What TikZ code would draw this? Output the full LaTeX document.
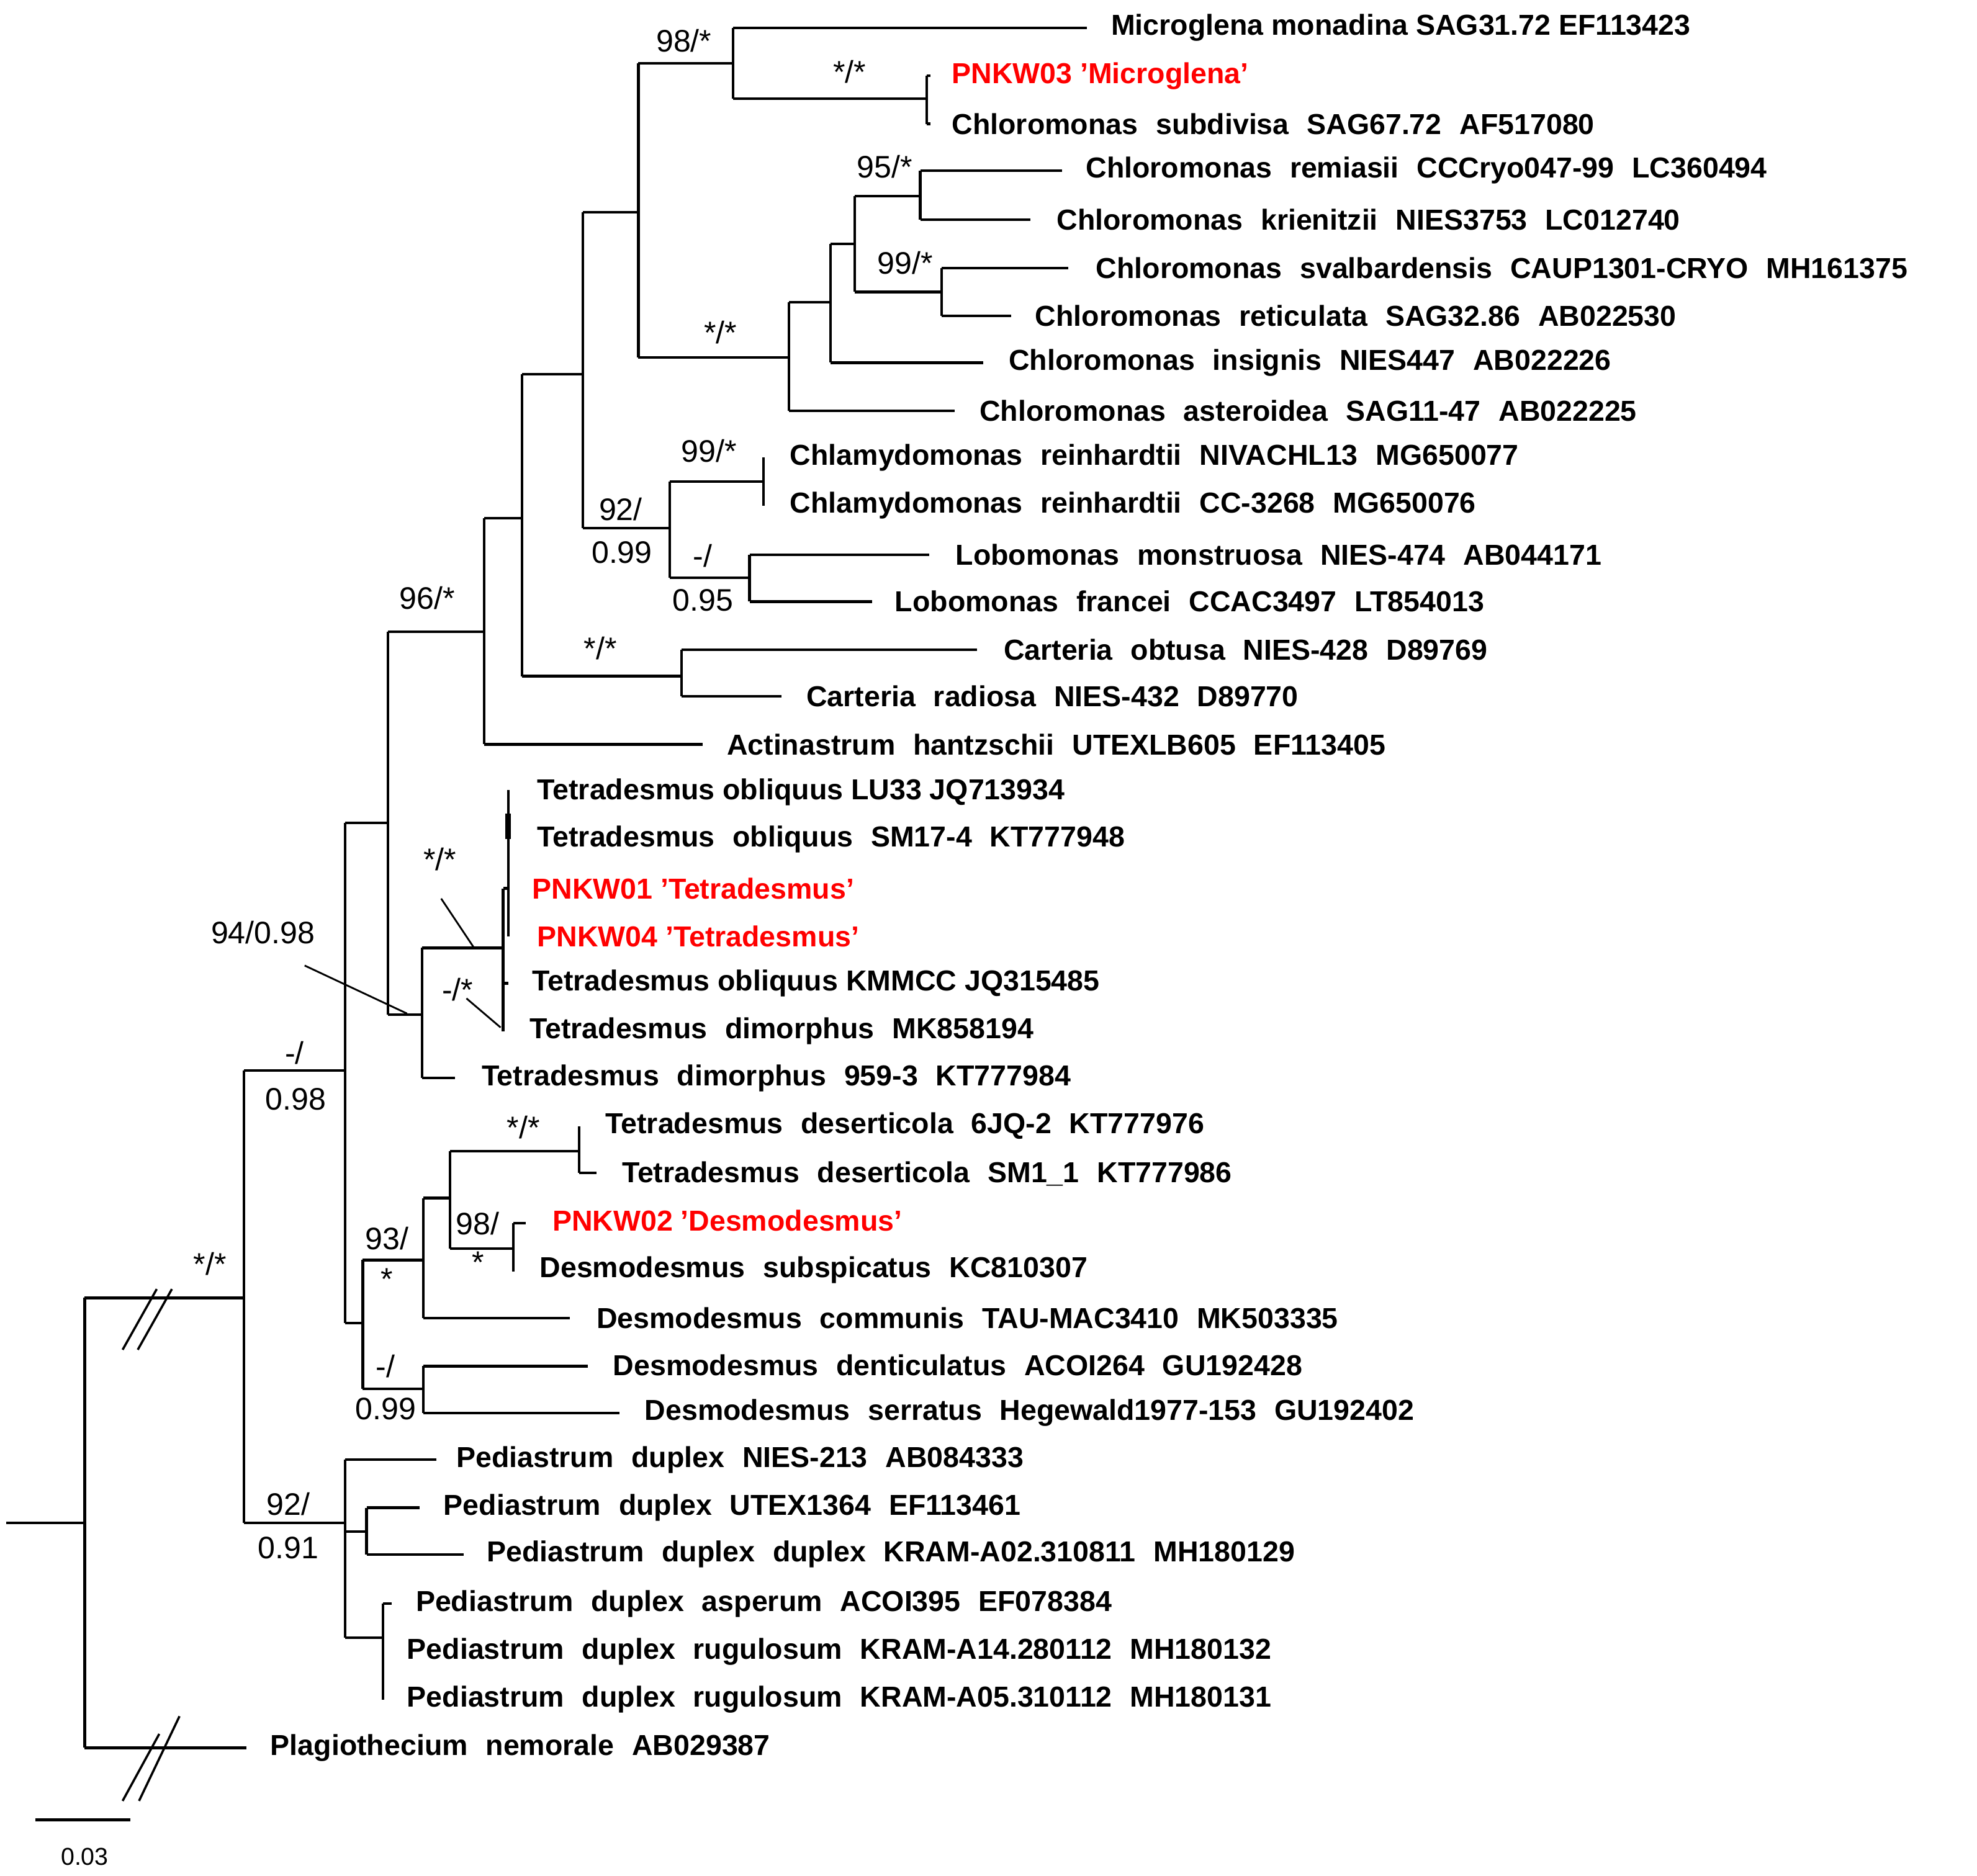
\documentclass[tikz,border=0pt]{standalone}
\usepackage{fontspec}
\setmainfont{Liberation Sans}
\begin{document}
\begin{tikzpicture}[x=0.02cm,y=-0.02cm,line width=1.2pt,
  leaf/.style={anchor=west,inner sep=0pt,font=\fontsize{13}{14}\selectfont\bfseries},
  wide/.style={leaf,execute at begin node={\spaceskip=0.62em\relax}},
  red/.style={text=red},
  sup/.style={inner sep=0pt,font=\fontsize{14}{15}\selectfont},
  lead/.style={line width=0.8pt}]
\useasboundingbox (0,0) rectangle (1564,1484);
\newcommand\hl[3]{\draw (#1,#3)--(#2,#3);}
\newcommand\vl[3]{\draw (#1,#2)--(#1,#3);}
% root
\hl{5}{67}{1205} \vl{67}{1027}{1383}
\hl{67}{193}{1027} \hl{67}{195}{1383}
\draw[lead,line width=1pt] (97,1068)--(124,1020) (109,1068)--(136,1020);
\draw[lead,line width=1pt] (97,1425)--(126,1372) (110,1425)--(142,1358);
\node[sup] at (166,1000) {*/*};
\node[wide] (plag) at (213,1383) {Plagiothecium nemorale AB029387};
% main node 193
\vl{193}{847}{1205}
\node[sup] at (233,833) {-/}; \node[sup] at (234,870) {0.98};
\hl{193}{273}{847} \vl{273}{651}{1047}
\hl{273}{307}{651} \vl{307}{500}{803}
\hl{307}{383}{500} \vl{383}{410}{589} \node[sup] at (338,473) {96/*};
\hl{383}{413}{410} \vl{413}{296}{535}
\hl{413}{461}{296} \vl{461}{168}{418}
\hl{461}{505}{168} \vl{505}{50}{283}
\hl{505}{580}{50} \vl{580}{22}{78} \node[sup] at (541,32) {98/*};
\hl{580}{860}{22} \node[leaf] at (878,22) {Microglena monadina SAG31.72 EF113423};
\hl{580}{733}{78} \vl{733}{60}{98} \node[sup] at (672,57) {*/*};
\hl{733}{736}{60}\hl{733}{736}{98}
\node[leaf,red] at (752,60) {PNKW03 'Microglena'};
\node[wide] at (752,98) {Chloromonas subdivisa SAG67.72 AF517080};
\hl{505}{624}{283} \vl{624}{239}{325} \node[sup] at (570,263) {*/*};
\hl{624}{657}{239} \vl{657}{193}{287}
\hl{657}{676}{193} \vl{676}{155}{231}
\hl{676}{728}{155} \vl{728}{135}{174} \node[sup] at (700,132) {95/*};
\hl{728}{840}{135} \node[wide] at (858,135) {Chloromonas remiasii CCCryo047-99 LC360494};
\hl{728}{815}{174} \node[wide] at (835,174) {Chloromonas krienitzii NIES3753 LC012740};
\hl{676}{745}{231} \vl{745}{212}{250} \node[sup] at (716,208) {99/*};
\hl{745}{845}{212} \node[wide] at (866,212) {Chloromonas svalbardensis CAUP1301-CRYO MH161375};
\hl{745}{800}{250} \node[wide] at (818,250) {Chloromonas reticulata SAG32.86 AB022530};
\hl{657}{778}{287} \node[wide] at (797,287) {Chloromonas insignis NIES447 AB022226};
\hl{624}{755}{325} \node[wide] at (774,325) {Chloromonas asteroidea SAG11-47 AB022225};
% Chlamydomonas
\hl{461}{530}{418} \vl{530}{381}{457}
\node[sup] at (491,403) {92/}; \node[sup] at (492,437) {0.99};
\hl{530}{604}{381} \vl{604}{362}{400} \node[sup] at (561,357) {99/*};
\node[wide] at (624,362) {Chlamydomonas reinhardtii NIVACHL13 MG650077};
\node[wide] at (624,400) {Chlamydomonas reinhardtii CC-3268 MG650076};
\hl{530}{593}{457} \vl{593}{439}{476}
\node[sup] at (556,440) {-/}; \node[sup] at (556,475) {0.95};
\hl{593}{735}{439} \node[wide] at (755,439) {Lobomonas monstruosa NIES-474 AB044171};
\hl{593}{690}{476} \node[wide] at (707,476) {Lobomonas francei CCAC3497 LT854013};
% Carteria
\hl{413}{539}{535} \vl{539}{514}{551} \node[sup] at (475,513) {*/*};
\hl{539}{773}{514} \node[wide] at (793,514) {Carteria obtusa NIES-428 D89769};
\hl{539}{618}{551} \node[wide] at (637,551) {Carteria radiosa NIES-432 D89770};
\hl{383}{556}{589} \node[wide] at (574,589) {Actinastrum hantzschii UTEXLB605 EF113405};
% Tetradesmus
\hl{307}{334}{803} \vl{334}{750}{853}
\hl{334}{398}{750} \vl{398}{703}{816}
\hl{398}{402}{703} \vl{402}{625}{741}
\draw[line width=2.4pt] (402,644)--(402,664);
\hl{398}{402}{778}
\hl{334}{360}{853}
\node[leaf] at (424,627) {Tetradesmus obliquus LU33 JQ713934};
\node[wide] at (424,664) {Tetradesmus obliquus SM17-4 KT777948};
\node[leaf,red] at (420,703) {PNKW01 'Tetradesmus'};
\node[leaf,red] at (424,741) {PNKW04 'Tetradesmus'};
\node[leaf] at (420,778) {Tetradesmus obliquus KMMCC JQ315485};
\node[wide] at (418,816) {Tetradesmus dimorphus MK858194};
\node[wide] at (380,853) {Tetradesmus dimorphus 959-3 KT777984};
\node[sup] at (348,680) {*/*}; \draw[lead] (349,711)--(375,750);
\node[sup] at (362,783) {-/*}; \draw[lead] (369,790)--(396,813);
\node[sup] at (208,738) {94/0.98}; \draw[lead] (241,764)--(322,802);
% Desmodesmus
\hl{273}{287}{1047} \vl{287}{997}{1099}
\node[sup] at (306,980) {93/}; \node[sup] at (306,1012) {*};
\hl{287}{335}{997} \vl{335}{948}{1043}
\hl{335}{356}{948} \vl{356}{911}{988}
\hl{356}{458}{911} \vl{458}{891}{928} \hl{458}{472}{928}
\node[sup] at (414,892) {*/*};
\node[wide] at (478,891) {Tetradesmus deserticola 6JQ-2 KT777976};
\node[wide] at (491,929) {Tetradesmus deserticola SM1\_1 KT777986};
\hl{356}{406}{988} \vl{406}{968}{1006} \hl{406}{416}{968}
\node[sup] at (378,968) {98/}; \node[sup] at (378,999) {*};
\node[leaf,red] at (436,966) {PNKW02 'Desmodesmus'};
\node[wide] at (426,1005) {Desmodesmus subspicatus KC810307};
\hl{335}{451}{1043} \node[wide] at (471,1043) {Desmodesmus communis TAU-MAC3410 MK503335};
\hl{287}{335}{1099} \vl{335}{1081}{1118}
\node[sup] at (305,1081) {-/}; \node[sup] at (305,1115) {0.99};
\hl{335}{465}{1081} \node[wide] at (484,1080) {Desmodesmus denticulatus ACOI264 GU192428};
\hl{335}{490}{1118} \node[wide] at (509,1118) {Desmodesmus serratus Hegewald1977-153 GU192402};
% Pediastrum
\hl{193}{273}{1205} \vl{273}{1155}{1296}
\node[sup] at (228,1190) {92/}; \node[sup] at (228,1225) {0.91};
\hl{273}{345}{1155} \node[wide] at (360,1155) {Pediastrum duplex NIES-213 AB084333};
\hl{273}{290}{1212} \vl{290}{1193}{1230}
\hl{290}{332}{1193} \node[wide] at (350,1193) {Pediastrum duplex UTEX1364 EF113461};
\hl{290}{367}{1230} \node[wide] at (384,1230) {Pediastrum duplex duplex KRAM-A02.310811 MH180129};
\hl{273}{303}{1296} \vl{303}{1269}{1345} \hl{303}{310}{1269}
\node[wide] at (328,1269) {Pediastrum duplex asperum ACOI395 EF078384};
\node[wide] at (321,1307) {Pediastrum duplex rugulosum KRAM-A14.280112 MH180132};
\node[wide] at (321,1345) {Pediastrum duplex rugulosum KRAM-A05.310112 MH180131};
% scale bar
\hl{28}{103}{1440}
\node[inner sep=0pt,font=\fontsize{11}{12}\selectfont] at (67,1469) {0.03};
\end{tikzpicture}
\end{document}
